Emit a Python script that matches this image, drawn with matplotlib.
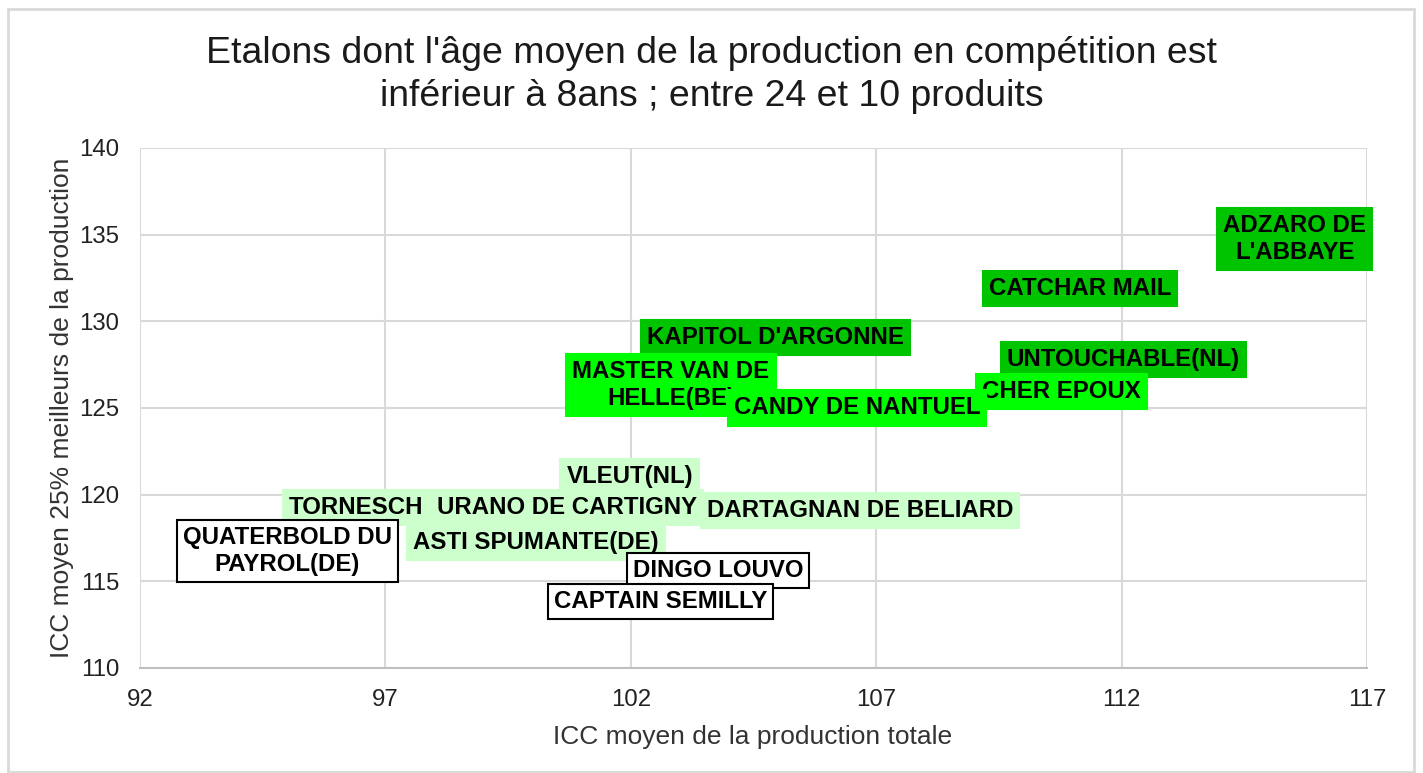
import matplotlib.pyplot as plt
from matplotlib.patches import Rectangle

plt.rcParams['font.family'] = ['Liberation Sans', 'DejaVu Sans']

# noms des étalons, ICC production totale (x), ICC 25% meilleurs (y)
noms = ["ADZARO DE\nL'ABBAYE", "CATCHAR MAIL", "KAPITOL D'ARGONNE", "MASTER VAN DE\nHELLE(BE)",
        "UNTOUCHABLE(NL)", "CHER EPOUX", "CANDY DE NANTUEL",
        "VLEUT(NL)", "TORNESCH", "URANO DE CARTIGNY", "DARTAGNAN DE BELIARD", "ASTI SPUMANTE(DE)",
        "QUATERBOLD DU\nPAYROL(DE)", "DINGO LOUVO", "CAPTAIN SEMILLY"]
icc_total = [115.53, 111.15, 104.94, 102.82, 112.03, 110.77, 106.61,
             101.98, 96.40, 100.70, 106.67, 100.07, 95.0, 103.78, 102.6]
icc_top25 = [134.75, 131.92, 129.04, 126.32, 127.77, 125.98, 125.0,
             121.07, 119.28, 119.28, 119.11, 117.26, 116.75, 115.6, 113.86]
groupe = ['fonce', 'fonce', 'fonce', 'vif', 'fonce', 'vif', 'vif',
          'clair', 'clair', 'clair', 'clair', 'clair', 'blanc', 'blanc', 'blanc']

couleurs = {'fonce': '#00C400', 'vif': '#00FF00', 'clair': '#CCFFCC', 'blanc': 'white'}

fig = plt.figure(figsize=(14.23, 7.73), dpi=100)
ax = fig.add_axes([140/1423, 1 - 668/773, 1227/1423, 520/773])

ax.scatter(icc_total, icc_top25, s=0)

for i, nom in enumerate(noms):
    g = groupe[i]
    bord = 'black' if g == 'blanc' else couleurs[g]
    ax.text(icc_total[i], icc_top25[i], nom, ha='center', va='center', multialignment='center',
            fontsize=17.3, fontweight='bold', color='black', zorder=3 + i,
            linespacing=1.18,
            bbox=dict(boxstyle='square,pad=0.25', facecolor=couleurs[g], edgecolor=bord,
                      linewidth=1.5))

ax.set_xlim(92, 117)
ax.set_ylim(110, 140)
ax.set_xticks(range(92, 118, 5))
ax.set_yticks(range(110, 141, 5))
ax.grid(True, color='#D9D9D9', linewidth=1.5)
ax.set_axisbelow(True)
for s in ['top', 'right', 'left']:
    ax.spines[s].set_visible(False)
ax.spines['bottom'].set_color('#BFBFBF')
ax.spines['bottom'].set_linewidth(1.5)
ax.tick_params(length=0, labelsize=17.3, labelcolor='#222222', pad=15)

fig.text(0.5, 1 - 75/773, "Etalons dont l'âge moyen de la production en compétition est\n"
         "inférieur à 8ans ; entre 24 et 10 produits",
         ha='center', va='center', fontsize=26.9, color='#1a1a1a', linespacing=1.28)
fig.text(753/1423, 1 - 737/773, 'ICC moyen de la production totale',
         ha='center', va='center', fontsize=19, color='#333333')
fig.text(62/1423, 1 - 408/773, 'ICC moyen 25% meilleurs de la production',
         ha='center', va='center', rotation=90, fontsize=19, color='#333333')

fig.patches.append(Rectangle((8/1423, 1/773), 1406/1423, 763/773, transform=fig.transFigure,
                             fill=False, edgecolor='#D9D9D9', linewidth=2))

fig.savefig('out.png', dpi=100)
